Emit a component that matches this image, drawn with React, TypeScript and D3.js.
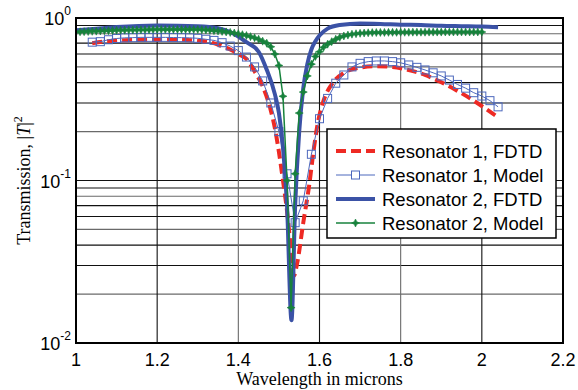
import React from "react";
import * as d3 from "d3";

// Resonator 1, FDTD (smooth curve)
const r1FdtdLambda = [1.04, 1.08, 1.12, 1.2, 1.25, 1.3, 1.33, 1.36, 1.38, 1.4, 1.42, 1.44, 1.46, 1.48, 1.49, 1.5, 1.51, 1.52, 1.53, 1.537, 1.545, 1.56, 1.575, 1.585, 1.595, 1.61, 1.63, 1.66, 1.7, 1.74, 1.78, 1.82, 1.86, 1.9, 1.94, 1.98, 2.02, 2.04];
const r1FdtdT = [0.7, 0.72, 0.73, 0.735, 0.735, 0.725, 0.71, 0.67, 0.64, 0.6, 0.56, 0.47, 0.38, 0.27, 0.21, 0.15, 0.1, 0.065, 0.037, 0.026, 0.031, 0.055, 0.095, 0.15, 0.22, 0.31, 0.39, 0.46, 0.495, 0.505, 0.5, 0.478, 0.446, 0.402, 0.356, 0.31, 0.265, 0.245];

// Resonator 1, Model (markers every 0.02 from 1.04)
const r1ModelStart = 1.04;
const r1ModelStep = 0.02;
const r1ModelT = [0.71, 0.715, 0.735, 0.748, 0.755, 0.757, 0.76, 0.76, 0.76, 0.76, 0.758, 0.757, 0.755, 0.75, 0.74, 0.728, 0.705, 0.672, 0.63, 0.575, 0.5, 0.41, 0.3, 0.2, 0.11, 0.055, 0.075, 0.145, 0.24, 0.32, 0.397, 0.446, 0.5, 0.526, 0.539, 0.544, 0.544, 0.539, 0.53, 0.514, 0.497, 0.479, 0.46, 0.44, 0.415, 0.39, 0.37, 0.347, 0.331, 0.31, 0.284];

// Resonator 2, FDTD (smooth curve)
const r2FdtdLambda = [1.0, 1.05, 1.1, 1.2, 1.3, 1.35, 1.38, 1.4, 1.42, 1.45, 1.47, 1.49, 1.5, 1.51, 1.52, 1.531, 1.54, 1.55, 1.56, 1.57, 1.58, 1.59, 1.6, 1.62, 1.65, 1.7, 1.75, 1.8, 1.85, 1.9, 1.95, 2.0, 2.04];
const r2FdtdT = [0.84, 0.86, 0.88, 0.9, 0.89, 0.865, 0.82, 0.77, 0.71, 0.62, 0.48, 0.34, 0.26, 0.16, 0.07, 0.0138, 0.07, 0.2, 0.37, 0.52, 0.64, 0.72, 0.78, 0.86, 0.905, 0.925, 0.92, 0.91, 0.905, 0.895, 0.89, 0.885, 0.876];

// Resonator 2, Model (markers every 0.01 from 1.00)
const r2ModelStart = 1.0;
const r2ModelStep = 0.01;
const r2ModelT = [
  0.82, 0.822, 0.824, 0.826, 0.828, 0.83, 0.832, 0.834, 0.836, 0.838,
  0.84, 0.841, 0.842, 0.843, 0.844, 0.845, 0.846, 0.847, 0.848, 0.849,
  0.85, 0.85, 0.85, 0.85, 0.85, 0.85, 0.85, 0.85, 0.85, 0.85,
  0.85, 0.848, 0.845, 0.84, 0.836, 0.832, 0.827, 0.821, 0.815, 0.808,
  0.8, 0.79, 0.78, 0.768, 0.755, 0.74, 0.72, 0.7, 0.665, 0.6,
  0.51, 0.33, 0.1, 0.0165, 0.11, 0.26, 0.35, 0.44, 0.52, 0.58,
  0.62, 0.66, 0.69, 0.715, 0.74, 0.76, 0.775, 0.785, 0.795, 0.8,
  0.805, 0.808, 0.811, 0.813, 0.814, 0.815, 0.815, 0.816, 0.816, 0.816,
  0.817, 0.817, 0.817, 0.818, 0.818, 0.818, 0.818, 0.819, 0.819, 0.819,
  0.819, 0.82, 0.82, 0.82, 0.82, 0.82, 0.82, 0.82, 0.82, 0.82, 0.82,
];

const xTicks = [1, 1.2, 1.4, 1.6, 1.8, 2, 2.2];
const xTickLabels = ["1", "1.2", "1.4", "1.6", "1.8", "2", "2.2"];
const yDecades = [1, 0.1, 0.01];
const yDecadeExps = ["0", "-1", "-2"];
const legendLabels = ["Resonator 1, FDTD", "Resonator 1, Model", "Resonator 2, FDTD", "Resonator 2, Model"];

const W = 578;
const H = 390;
const margin = { top: 18, right: 15, bottom: 47, left: 76 };

const RED = "#ee2a24";
const BLUE = "#3b52a6";
const BLUE_THIN = "#4d68bd";
const GREEN = "#17823c";
const SERIF = "'Liberation Serif', 'Times New Roman', serif";

type Pt = { x: number; y: number };

const starPath = (r: number, a: number) =>
  `M0,${-r}L${a},${-a}L${r},0L${a},${a}L0,${r}L${-a},${a}L${-r},0L${-a},${-a}Z`;

export default function App() {
  const x = d3.scaleLinear().domain([1, 2.2]).range([margin.left, W - margin.right]);
  const y = d3.scaleLog().domain([0.01, 1]).range([H - margin.bottom, margin.top]);

  const r1Fdtd: Pt[] = r1FdtdLambda.map((l, i) => ({ x: l, y: r1FdtdT[i] }));
  const r2Fdtd: Pt[] = r2FdtdLambda.map((l, i) => ({ x: l, y: r2FdtdT[i] }));
  const r1Model: Pt[] = r1ModelT.map((v, i) => ({ x: r1ModelStart + i * r1ModelStep, y: v }));
  const r2Model: Pt[] = r2ModelT.map((v, i) => ({ x: r2ModelStart + i * r2ModelStep, y: v }));

  const smooth = d3.line<Pt>().x((d) => x(d.x)).y((d) => y(d.y)).curve(d3.curveMonotoneX);
  const straight = d3.line<Pt>().x((d) => x(d.x)).y((d) => y(d.y));

  // minor + major horizontal grid
  const yGrid: number[] = [];
  [0.01, 0.1].forEach((dec) => {
    for (let k = 1; k <= 9; k++) yGrid.push(dec * k);
  });
  yGrid.push(1);

  const x0 = margin.left;
  const x1 = W - margin.right;
  const y0 = margin.top;
  const y1 = H - margin.bottom;

  const lgX = 327;
  const lgY = 129;
  const lgW = 229;
  const lgH = 109;
  const rowY = (i: number) => 151 + i * 24;
  const sx0 = 336;
  const sx1 = 375;

  return (
    <svg
      width={W}
      height={H}
      style={{ position: "fixed", left: 0, top: 0, background: "#fff" }}
      fontFamily="'Liberation Sans', Arial, sans-serif"
    >
      <rect x={0} y={0} width={W} height={H} fill="#fff" />
      <defs>
        <clipPath id="plot">
          <rect x={x0} y={y0} width={x1 - x0} height={y1 - y0} />
        </clipPath>
      </defs>

      {/* grid */}
      <g strokeWidth={1.1}>
        {yGrid.map((v, i) => (
          <line key={`hy${i}`} x1={x0} x2={x1} y1={y(v)} y2={y(v)} stroke={i % 3 === 1 ? "#6a6a6a" : "#111"} />
        ))}
        {xTicks.map((t, i) => (
          <line key={`vx${i}`} x1={x(t)} x2={x(t)} y1={y0} y2={y1} stroke={i % 2 === 1 ? "#111" : "#6a6a6a"} />
        ))}
      </g>

      {/* series */}
      <g clipPath="url(#plot)">
        <path d={smooth(r1Fdtd) || ""} fill="none" stroke={RED} strokeWidth={4} strokeDasharray="10,5" />
        <path d={straight(r1Model) || ""} fill="none" stroke={BLUE_THIN} strokeWidth={1} />
        {r1Model.map((d, i) => (
          <rect key={`sq${i}`} x={x(d.x) - 4} y={y(d.y) - 4} width={8} height={8} fill="none" stroke={BLUE_THIN} strokeWidth={1} />
        ))}
        <path d={smooth(r2Fdtd) || ""} fill="none" stroke={BLUE} strokeWidth={4} />
        <path d={straight(r2Model) || ""} fill="none" stroke={GREEN} strokeWidth={1.5} />
        {r2Model.map((d, i) => (
          <path key={`st${i}`} d={starPath(4, 1.3)} transform={`translate(${x(d.x)},${y(d.y)})`} fill={GREEN} stroke={GREEN} strokeWidth={0.6} />
        ))}
      </g>

      {/* frame */}
      <rect x={x0} y={y0} width={x1 - x0} height={y1 - y0} fill="none" stroke="#000" strokeWidth={2} />

      {/* tick labels */}
      {xTicks.map((t, i) => (
        <text key={`xt${i}`} x={x(t)} y={y1 + 23} textAnchor="middle" fontSize={18}>
          {xTickLabels[i]}
        </text>
      ))}
      {yDecades.map((v, i) => (
        <text key={`yt${i}`} x={x0 - 5} y={y(v) + 7} textAnchor="end" fontSize={18}>
          10
          <tspan dy={-10} fontSize={12}>
            {yDecadeExps[i]}
          </tspan>
        </text>
      ))}

      {/* axis titles */}
      <text x={(x0 + x1) / 2} y={385} textAnchor="middle" fontSize={18} fontFamily={SERIF}>
        Wavelength in microns
      </text>
      <text
        transform={`translate(30,${(y0 + y1) / 2}) rotate(-90)`}
        textAnchor="middle"
        fontSize={18}
        fontFamily={SERIF}
      >
        Transmission, |<tspan fontStyle="italic">T</tspan>|
        <tspan dy={-8} fontSize={12}>
          2
        </tspan>
      </text>

      {/* legend */}
      <rect x={lgX} y={lgY} width={lgW} height={lgH} fill="#fff" stroke="#000" strokeWidth={1.5} />
      <line x1={sx0} x2={sx1} y1={rowY(0)} y2={rowY(0)} stroke={RED} strokeWidth={4} strokeDasharray="10,5" />
      <line x1={sx0} x2={sx1} y1={rowY(1)} y2={rowY(1)} stroke={BLUE_THIN} strokeWidth={1} />
      <rect x={(sx0 + sx1) / 2 - 4} y={rowY(1) - 4} width={8} height={8} fill="#fff" stroke={BLUE_THIN} strokeWidth={1} />
      <line x1={sx0} x2={sx1} y1={rowY(2)} y2={rowY(2)} stroke={BLUE} strokeWidth={4} />
      <line x1={sx0} x2={sx1} y1={rowY(3)} y2={rowY(3)} stroke={GREEN} strokeWidth={1.5} />
      <path d={starPath(4, 1.3)} transform={`translate(${(sx0 + sx1) / 2},${rowY(3)})`} fill={GREEN} stroke={GREEN} strokeWidth={0.6} />
      {legendLabels.map((l, i) => (
        <text key={`lg${i}`} x={382} y={rowY(i) + 7} fontSize={18.5}>
          {l}
        </text>
      ))}
    </svg>
  );
}
